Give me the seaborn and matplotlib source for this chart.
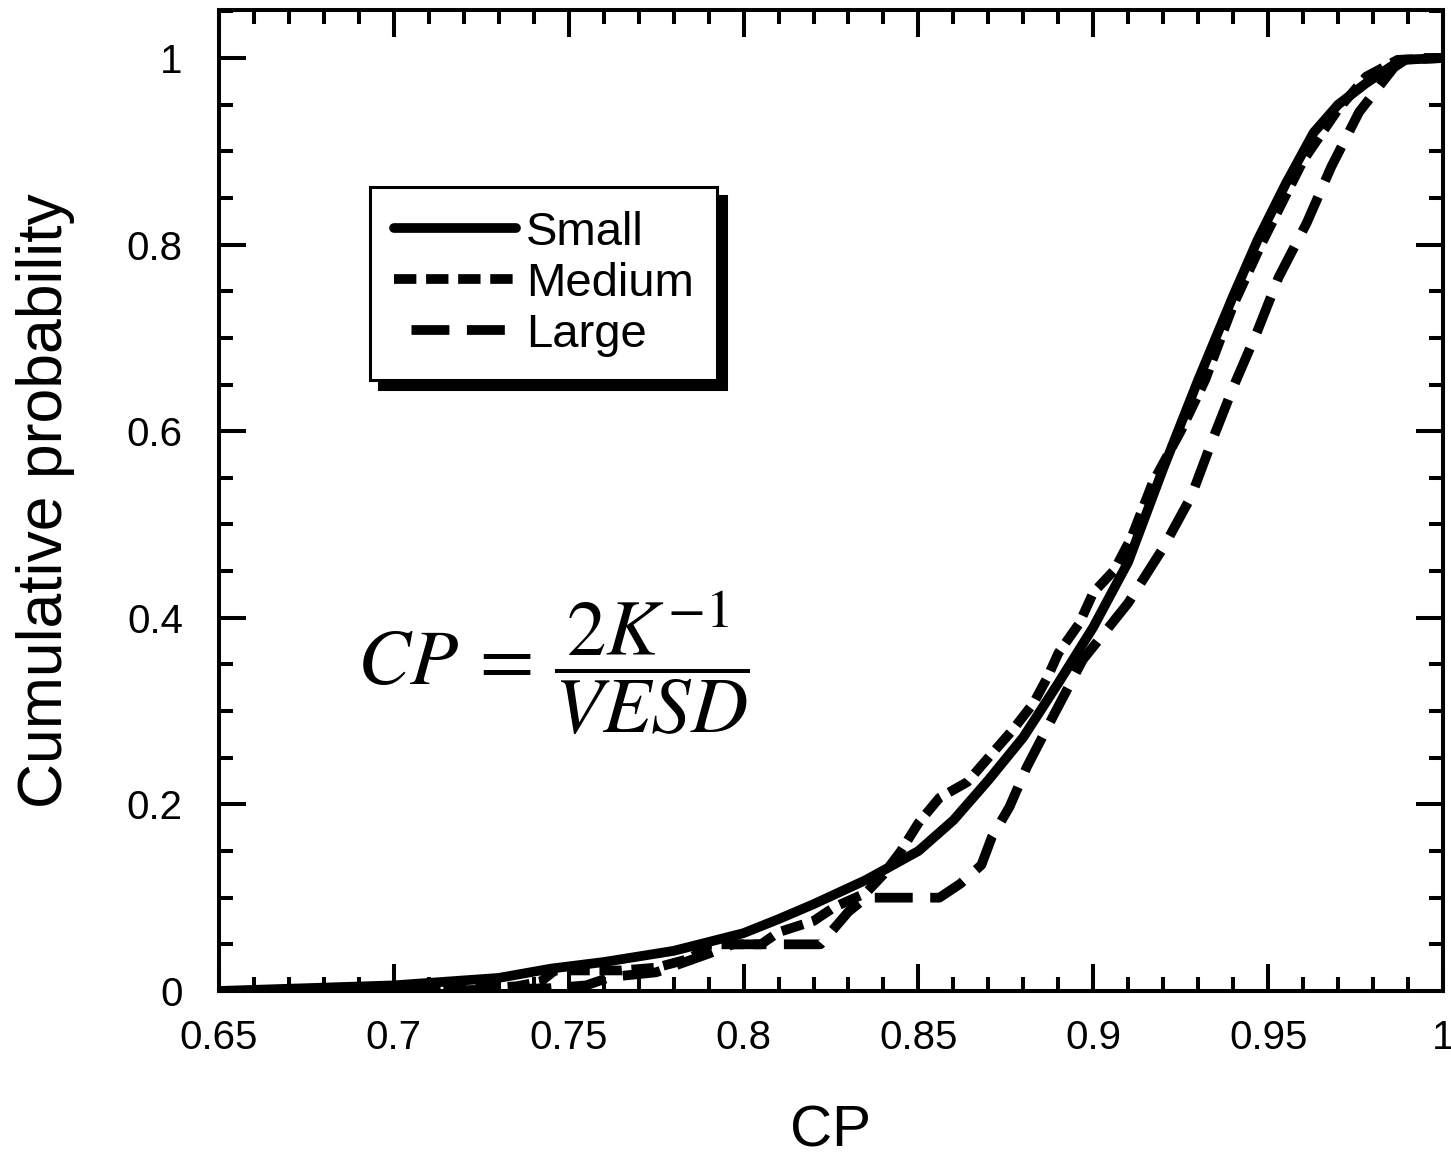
import matplotlib
matplotlib.use("Agg")
import matplotlib.pyplot as plt
import matplotlib.ticker as ticker
import seaborn as sns

# curves
small_cp = [0.65, 0.70, 0.73, 0.745, 0.76, 0.78, 0.80, 0.81, 0.82, 0.835, 0.85, 0.86, 0.87, 0.88,
            0.89, 0.90, 0.91, 0.92, 0.93, 0.94, 0.947, 0.955, 0.963, 0.97, 0.978, 0.988, 1.0]
small_prob = [0.0, 0.006, 0.014, 0.024, 0.031, 0.043, 0.062, 0.077, 0.093, 0.119, 0.150, 0.183, 0.226, 0.272,
              0.33, 0.39, 0.46, 0.56, 0.655, 0.745, 0.805, 0.865, 0.92, 0.95, 0.973, 0.998, 1.0]

medium_cp = [0.65, 0.71, 0.735, 0.742, 0.746, 0.765, 0.775, 0.785, 0.79, 0.805, 0.81, 0.82, 0.826, 0.835,
             0.84, 0.845, 0.85, 0.856, 0.864, 0.87, 0.877, 0.883, 0.887, 0.89, 0.896, 0.90, 0.906, 0.911,
             0.917, 0.925, 0.932, 0.94, 0.948, 0.96, 0.97, 0.978, 0.987, 1.0]
medium_prob = [0.0, 0.0, 0.005, 0.01, 0.022, 0.022, 0.025, 0.035, 0.05, 0.05, 0.063, 0.075, 0.09, 0.105,
               0.125, 0.15, 0.18, 0.207, 0.224, 0.25, 0.28, 0.309, 0.337, 0.362, 0.394, 0.427, 0.451, 0.487,
               0.545, 0.60, 0.655, 0.735, 0.80, 0.89, 0.945, 0.98, 0.998, 1.0]

large_cp = [0.65, 0.71, 0.745, 0.755, 0.762, 0.775, 0.79, 0.797, 0.822, 0.83, 0.835, 0.856, 0.862, 0.868,
            0.871, 0.876, 0.881, 0.889, 0.897, 0.91, 0.92, 0.928, 0.934, 0.94, 0.947, 0.953, 0.961, 0.968,
            0.976, 0.986, 0.99, 1.0]
large_prob = [0.0, 0.0, 0.003, 0.006, 0.015, 0.02, 0.04, 0.05, 0.05, 0.085, 0.10, 0.10, 0.115, 0.135,
              0.165, 0.197, 0.24, 0.298, 0.355, 0.416, 0.475, 0.53, 0.59, 0.647, 0.708, 0.765, 0.823, 0.883,
              0.942, 0.99, 1.0, 1.0]

x_ticks = [0.65, 0.7, 0.75, 0.8, 0.85, 0.9, 0.95, 1.0]
x_tick_labels = ["0.65", "0.7", "0.75", "0.8", "0.85", "0.9", "0.95", "1"]
y_ticks = [0, 0.2, 0.4, 0.6, 0.8, 1.0]
y_tick_labels = ["0", "0.2", "0.4", "0.6", "0.8", "1"]

sns.set_theme(style="ticks")
plt.rcParams['font.family'] = ['Liberation Sans', 'DejaVu Sans']
plt.rcParams['mathtext.fontset'] = 'stix'
plt.rcParams['text.color'] = 'black'
plt.rcParams['axes.labelcolor'] = 'black'
plt.rcParams['xtick.color'] = 'black'
plt.rcParams['ytick.color'] = 'black'

fig = plt.figure(figsize=(14.51, 11.57), dpi=100)
ax = fig.add_axes([0.1509, 0.1435, 0.8436, 0.8479])

lw = 7
sns.lineplot(x=small_cp, y=small_prob, ax=ax, color='black', lw=lw, estimator=None,
             label='Small', linestyle='-')
sns.lineplot(x=medium_cp, y=medium_prob, ax=ax, color='black', lw=lw, estimator=None,
             label='Medium', linestyle=(0, (2.3, 1.0)))
sns.lineplot(x=large_cp, y=large_prob, ax=ax, color='black', lw=lw, estimator=None,
             label='Large', linestyle=(3.9, (3.9, 1.8)))

ax.set_xlim(0.65, 1.0)
ax.set_ylim(0, 1.0515)
ax.set_xticks(x_ticks)
ax.set_xticklabels(x_tick_labels)
ax.set_yticks(y_ticks)
ax.set_yticklabels(y_tick_labels)
ax.xaxis.set_minor_locator(ticker.MultipleLocator(0.01))
ax.yaxis.set_minor_locator(ticker.MultipleLocator(0.05))
ax.tick_params(which='both', direction='in', top=True, right=True, width=2.9, color='black')
ax.tick_params(which='major', length=19.5)
ax.tick_params(which='minor', length=10)
ax.tick_params(axis='x', which='major', labelsize=29, pad=20)
ax.tick_params(axis='y', which='major', labelsize=29, pad=26)
for sp in ax.spines.values():
    sp.set_linewidth(2.9)
    sp.set_color('black')

ax.set_xlabel("CP", fontsize=42)
ax.set_ylabel("Cumulative probability", fontsize=45)
ax.xaxis.set_label_coords(0.5, -0.116)
ax.yaxis.set_label_coords(-0.118, 0.5)

ax.text(0.7455, 0.3515, r'$CP\,=\,\dfrac{2K^{-1}}{VESD}$', fontsize=57,
        ha='center', va='center')

leg = ax.legend(loc='upper left', bbox_to_anchor=(0.1234, 0.8196), borderaxespad=0,
                fontsize=34, frameon=True, fancybox=False, framealpha=1, edgecolor='black',
                handlelength=2.6, handletextpad=0.2, labelspacing=0.15, borderpad=0.5,
                shadow={'ox': 6.5, 'oy': -6.5, 'facecolor': 'black', 'edgecolor': 'black', 'alpha': 1})
leg.get_frame().set_linewidth(2.2)

fig.savefig("out.png", dpi=100)
